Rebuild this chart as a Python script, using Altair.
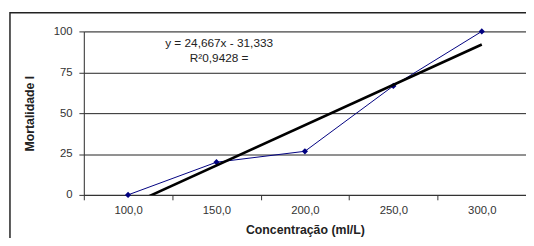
import altair as alt
import pandas as pd

# ---- data ----
categories = ["100,0", "150,0", "200,0", "250,0", "300,0"]
mortality = [0, 20, 26.67, 66.67, 100]
y_ticks = [0, 25, 50, 75, 100]
eq_lines = ["y = 24,667x - 31,333", "R²0,9428  ="]
eq_x = [2.03, 2.03]
eq_y = [92.6, 83.8]

idx = list(range(1, len(categories) + 1))
df = pd.DataFrame({"idx": idx, "cat": categories, "mort": mortality})
eq_df = pd.DataFrame({"t": eq_lines, "x": eq_x, "y": eq_y})

W, H = 449, 166
FONT = "Liberation Sans"

x_vals = [i * 0.5 for i in range(1, 2 * len(categories) + 2)]
label_expr = "datum.value % 1 == 0 ? " + str(categories) + "[datum.value - 1] : ''"

x_scale = alt.Scale(domain=[0.5, len(categories) + 0.5], nice=False, zero=False)
y_scale = alt.Scale(domain=[0, 100], nice=False)

x_axis = alt.Axis(
    values=x_vals, labelExpr=label_expr, grid=False,
    tickOpacity={"condition": {"test": "datum.value % 1 == 0", "value": 0}, "value": 1},
    tickSize=5, tickColor="#333", domainColor="#333",
    labelFont=FONT, labelFontSize=11.5, labelColor="#333", labelPadding=5,
    title="Concentração (ml/L)", titleFont=FONT, titleFontSize=12.5,
    titleFontWeight="bold", titleColor="#222", titlePadding=8,
)
y_axis = alt.Axis(
    values=y_ticks, grid=True, gridColor="#222", gridWidth=1,
    tickSize=5, tickColor="#333", domainColor="#333",
    labelFont=FONT, labelFontSize=11.5, labelColor="#333", labelPadding=7,
    title="Mortalidade l", titleFont=FONT, titleFontSize=12.5,
    titleFontWeight="bold", titleColor="#222", titlePadding=17,
)

base = alt.Chart(df)

series = base.mark_line(
    color="#000080", strokeWidth=1,
    point=alt.OverlayMarkDef(shape="diamond", size=40, filled=True, color="#000080"),
).encode(
    x=alt.X("idx:Q", scale=x_scale, axis=x_axis),
    y=alt.Y("mort:Q", scale=y_scale, axis=y_axis),
)

trend = base.transform_regression("idx", "mort", extent=[1, len(categories)]).mark_line(
    color="black", strokeWidth=2.6, clip=True
).encode(
    x=alt.X("idx:Q", scale=x_scale),
    y=alt.Y("mort:Q", scale=y_scale),
)

eq = alt.Chart(eq_df).mark_text(
    font=FONT, fontSize=12, color="#222", align="center", baseline="middle"
).encode(
    x=alt.X("x:Q", scale=x_scale),
    y=alt.Y("y:Q", scale=y_scale),
    text="t:N",
)

frame = alt.Chart(pd.DataFrame({"a": [0]})).mark_rect(
    filled=False, stroke="#222", strokeWidth=1.5
).encode(
    x=alt.value(-75), x2=alt.value(W + 30),
    y=alt.value(-19), y2=alt.value(H + 80),
)

chart = alt.layer(series, trend, eq, frame).properties(
    width=W, height=H,
    autosize=alt.AutoSizeParams(type="none"),
    padding={"left": 77, "top": 22, "right": 0, "bottom": 42},
).configure_view(stroke=None).configure(background="white")

chart.save("out.html", embed_options={"renderer": "svg", "actions": False})
